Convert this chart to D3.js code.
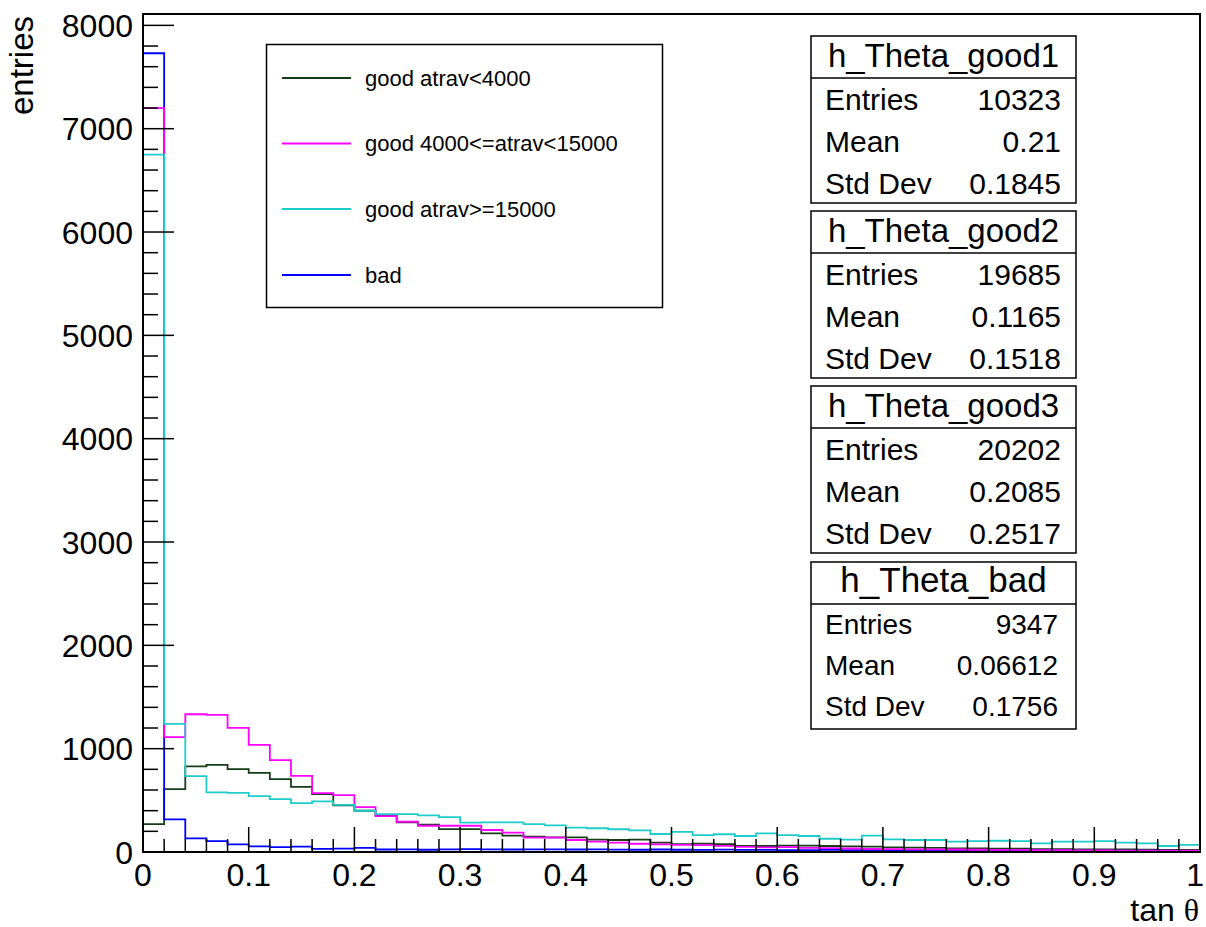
<!DOCTYPE html>
<html>
<head>
<meta charset="utf-8">
<script src="https://cdn.jsdelivr.net/npm/d3@7"></script>
<style>
  body { margin: 0; background: #fff; }
  svg { display: block; font-family: "Liberation Sans", Arial, Helvetica, sans-serif; }
</style>
</head>
<body>
<div id="svg"></div>
<script>
// so bin: 50 bin, rong 0.02, tu 0 den 1
var binWidth = 0.02;

var good1Counts = [270, 609, 828, 843, 802, 766, 705, 631, 560, 451,
  399, 357, 287, 264, 222, 222, 180, 158, 148, 142,
  142, 120, 116, 120, 90, 77, 82, 77, 58, 58,
  62, 62, 58, 55, 52, 45, 42, 40, 36, 36,
  33, 32, 28, 27, 26, 25, 24, 22, 21, 20];

var good2Counts = [7200, 1111, 1333, 1327, 1201, 1037, 889, 737, 570, 551,
  435, 348, 293, 254, 254, 254, 213, 187, 139, 139,
  116, 100, 90, 80, 74, 68, 66, 60, 50, 45,
  48, 39, 38, 34, 30, 27, 26, 25, 24, 22,
  21, 20, 19, 18, 16, 15, 14, 14, 13, 12];

var good3Counts = [6750, 1240, 734, 577, 573, 541, 512, 473, 490, 457,
  399, 367, 367, 354, 338, 285, 287, 287, 270, 258,
  235, 230, 220, 210, 174, 195, 164, 172, 155, 180,
  164, 155, 128, 120, 158, 122, 116, 116, 100, 106,
  109, 106, 84, 100, 100, 106, 90, 84, 58, 68];

var badCounts = [7730, 316, 132, 106, 74, 55, 48, 52, 30, 32,
  40, 24, 26, 22, 26, 28, 25, 24, 26, 25,
  24, 25, 23, 22, 24, 22, 21, 23, 20, 21,
  19, 18, 20, 17, 18, 17, 16, 18, 15, 16,
  15, 14, 16, 13, 14, 13, 12, 13, 12, 11];

var legendLabels = ["good atrav<4000", "good 4000<=atrav<15000", "good atrav>=15000", "bad"];
var seriesColors = ["#173d17", "#ff00ff", "#1fcccc", "#0000ff"];

var xTickValues = [0, 0.1, 0.2, 0.3, 0.4, 0.5, 0.6, 0.7, 0.8, 0.9, 1];
var yTickValues = [0, 1000, 2000, 3000, 4000, 5000, 6000, 7000, 8000];

var statNames = ["h_Theta_good1", "h_Theta_good2", "h_Theta_good3", "h_Theta_bad"];
var statEntries = ["10323", "19685", "20202", "9347"];
var statMeans = ["0.21", "0.1165", "0.2085", "0.06612"];
var statStdDevs = ["0.1845", "0.1518", "0.2517", "0.1756"];

// Kich thuoc
var width = 1206;
var height = 927;
var padLeft = 143, padRight = 1200, padTop = 14, padBottom = 852;

var svg = d3.select("#svg").append("svg")
    .attr("width", width)
    .attr("height", height);

var x = d3.scaleLinear().domain([0, 1]).range([padLeft, padRight]);
var y = d3.scaleLinear().domain([0, 8110]).range([padBottom, padTop]);

// histogram dang bac thang
function histPoints(counts) {
  var pts = [[0, 0]];
  counts.forEach(function(c, i) { pts.push([i * binWidth, c]); });
  pts.push([counts.length * binWidth, counts[counts.length - 1]]);
  pts.push([counts.length * binWidth, 0]);
  return pts;
}

var line = d3.line()
    .x(function(d) { return x(d[0]); })
    .y(function(d) { return y(d[1]); })
    .curve(d3.curveStepAfter);

var allSeries = [good1Counts, badCounts, good2Counts, good3Counts];
var allColors = [seriesColors[0], seriesColors[3], seriesColors[1], seriesColors[2]];

svg.selectAll("path.hist")
    .data(allSeries)
  .enter().append("path")
    .attr("class", "hist")
    .attr("d", function(d) { return line(histPoints(d)); })
    .attr("fill", "none")
    .attr("stroke", function(d, i) { return allColors[i]; })
    .attr("stroke-width", 1.8);

// khung
svg.append("rect")
    .attr("x", padLeft).attr("y", padTop)
    .attr("width", padRight - padLeft).attr("height", padBottom - padTop)
    .attr("fill", "none").attr("stroke", "#000").attr("stroke-width", 2);

// vach truc y
var yMinor = d3.range(0, 8110, 200);
svg.selectAll("line.ytick")
    .data(yMinor)
  .enter().append("line")
    .attr("x1", padLeft)
    .attr("x2", function(d) { return d % 1000 == 0 ? padLeft + 31 : padLeft + 15; })
    .attr("y1", function(d) { return y(d); })
    .attr("y2", function(d) { return y(d); })
    .attr("stroke", "#000").attr("stroke-width", 1.5);

// vach truc x
var xMinor = d3.range(0, 51).map(function(i) { return i * 0.02; });
svg.selectAll("line.xtick")
    .data(xMinor)
  .enter().append("line")
    .attr("x1", function(d) { return x(d); })
    .attr("x2", function(d) { return x(d); })
    .attr("y1", padBottom)
    .attr("y2", function(d, i) { return i % 5 == 0 ? padBottom - 25 : padBottom - 13; })
    .attr("stroke", "#000").attr("stroke-width", 1.5);

svg.selectAll("text.ylab")
    .data(yTickValues)
  .enter().append("text")
    .attr("x", 133)
    .attr("y", function(d) { return y(d); })
    .attr("dy", "0.36em")
    .attr("text-anchor", "end")
    .style("font-size", "32px")
    .text(function(d) { return d; });

svg.selectAll("text.xlab")
    .data(xTickValues)
  .enter().append("text")
    .attr("x", function(d) { return d == 1 ? width - 2 : x(d); })
    .attr("y", 886)
    .attr("text-anchor", function(d) { return d == 1 ? "end" : "middle"; })
    .style("font-size", "32px")
    .text(function(d) { return d3.format("~g")(d); });

svg.append("text")
    .attr("transform", "translate(33,16) rotate(-90)")
    .attr("text-anchor", "end")
    .style("font-size", "33px")
    .text("entries");

var xt = svg.append("text")
    .attr("x", 1199).attr("y", 921)
    .attr("text-anchor", "end")
    .style("font-size", "32px");
xt.append("tspan").text("tan ");
xt.append("tspan").style("font-family", "'Liberation Serif', 'DejaVu Serif', serif").text("\u03b8");

// chu giai
var legend = svg.append("g");
legend.append("rect")
    .attr("x", 266.5).attr("y", 44.5).attr("width", 396).attr("height", 263)
    .attr("fill", "#fff").attr("stroke", "#000").attr("stroke-width", 1.5);

var legRows = [78, 143.5, 209, 275];
var leg = legend.selectAll("g.row")
    .data(legendLabels)
  .enter().append("g");
leg.append("line")
    .attr("x1", 282).attr("x2", 351)
    .attr("y1", function(d, i) { return legRows[i]; })
    .attr("y2", function(d, i) { return legRows[i]; })
    .attr("stroke", function(d, i) { return seriesColors[i]; })
    .attr("stroke-width", 1.8);
leg.append("text")
    .attr("x", 365)
    .attr("y", function(d, i) { return legRows[i]; })
    .attr("dy", "0.36em")
    .style("font-size", "22px")
    .text(function(d) { return d; });

// hop thong ke
var boxTops = [36, 211, 386, 562];
var boxX = 811, boxW = 265, boxH = 167, titleH = 42;

statNames.forEach(function(name, i) {
  var g = svg.append("g").attr("transform", "translate(" + boxX + "," + boxTops[i] + ")");
  var isLast = i == 3;
  g.append("rect")
      .attr("width", boxW).attr("height", boxH)
      .attr("fill", "#fff").attr("stroke", "#000").attr("stroke-width", 1.5);
  g.append("line")
      .attr("x1", 0).attr("x2", boxW)
      .attr("y1", titleH).attr("y2", titleH)
      .attr("stroke", "#000").attr("stroke-width", 1.5);
  g.append("text")
      .attr("x", boxW / 2).attr("y", isLast ? 30 : 31)
      .attr("text-anchor", "middle")
      .style("font-size", isLast ? "35px" : "33px")
      .text(name);

  var rows = [["Entries", statEntries[i]], ["Mean", statMeans[i]], ["Std Dev", statStdDevs[i]]];
  var offs = isLast ? [72, 113, 154] : [74, 116, 158];
  rows.forEach(function(r, j) {
    g.append("text")
        .attr("x", 14).attr("y", offs[j])
        .style("font-size", isLast ? "28px" : "30px")
        .text(r[0]);
    g.append("text")
        .attr("x", isLast ? boxW - 18 : boxW - 15).attr("y", offs[j])
        .attr("text-anchor", "end")
        .style("font-size", isLast ? "28px" : "30px")
        .text(r[1]);
  });
});
</script>
</body>
</html>
